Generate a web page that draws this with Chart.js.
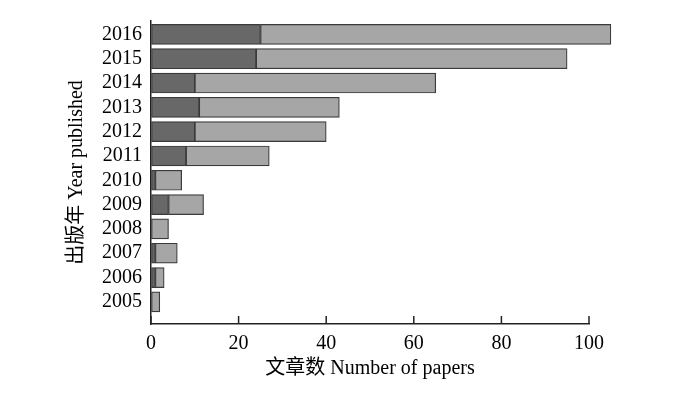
<!DOCTYPE html>
<html lang="en">
<head>
    <meta charset="UTF-8">
    <title>Chart</title>
    <script src="https://cdn.jsdelivr.net/npm/chart.js"></script>
    <style>
        html, body { margin: 0; padding: 0; background: #fff; }
        #wrap { width: 677px; height: 397px; }
    </style>
</head>
<body>
    <div id="wrap"><canvas id="myChart"></canvas></div>

    <script>
        // years, top to bottom
        const years = ['2016', '2015', '2014', '2013', '2012', '2011', '2010', '2009', '2008', '2007', '2006', '2005'];
        // dark part / light part of each bar
        const darkCounts = [25, 24, 10, 11, 10, 8, 1, 4, 0, 1, 1, 0];
        const lightCounts = [80, 71, 55, 32, 30, 19, 6, 8, 4, 5, 2, 2];
        const xTicks = [0, 20, 40, 60, 80, 100];

        const fontFamily = "'Liberation Serif', 'Noto Sans CJK SC', serif";
        Chart.defaults.font.family = fontFamily;
        Chart.defaults.color = '#000';

        // tick marks on the x axis point up into the plot
        const innerTicks = {
            id: 'innerTicks',
            afterDraw(chart) {
                const x = chart.scales.x;
                const c = chart.ctx;
                c.save();
                c.strokeStyle = '#222';
                c.lineWidth = 1.5;
                x.ticks.forEach(t => {
                    const px = x.getPixelForValue(t.value);
                    c.beginPath();
                    c.moveTo(px, x.top);
                    c.lineTo(px, x.top - 8);
                    c.stroke();
                });
                c.restore();
            }
        };

        var ctx = document.getElementById('myChart').getContext('2d');
        var myChart = new Chart(ctx, {
            type: 'bar',
            data: {
                datasets: [{
                    label: 'dark',
                    data: darkCounts.map((v, i) => ({ x: v, y: Number(years[i]) })),
                    backgroundColor: '#686868',
                    borderColor: '#3a3a3a',
                    borderWidth: 1.2,
                    borderSkipped: false,
                    barThickness: 20,
                    clip: false
                }, {
                    label: 'light',
                    data: lightCounts.map((v, i) => ({ x: v, y: Number(years[i]) })),
                    backgroundColor: '#a6a6a6',
                    borderColor: '#3a3a3a',
                    borderWidth: 1.2,
                    borderSkipped: false,
                    barThickness: 20,
                    clip: false
                }]
            },
            options: {
                indexAxis: 'y',
                responsive: true,
                maintainAspectRatio: false,
                animation: false,
                layout: { padding: { left: 65, right: 88, top: 20, bottom: 12 } },
                plugins: {
                    legend: { display: false },
                    tooltip: { enabled: false }
                },
                scales: {
                    x: {
                        type: 'linear',
                        stacked: true,
                        min: 0,
                        max: 100,
                        afterBuildTicks: scale => { scale.ticks = xTicks.map(v => ({ value: v })); },
                        grid: { drawOnChartArea: false, drawTicks: false },
                        border: { color: '#222', width: 1.5 },
                        ticks: { font: { size: 20 }, padding: 8, maxRotation: 0 },
                        title: {
                            display: true,
                            text: '文章数 Number of papers',
                            font: { size: 20 },
                            padding: { top: -7, bottom: 4 }
                        }
                    },
                    y: {
                        type: 'linear',
                        stacked: true,
                        offset: false,
                        min: 2004.09,
                        max: 2016.55,
                        grid: { display: false, drawTicks: false },
                        border: { color: '#222', width: 1.5 },
                        ticks: {
                            stepSize: 1,
                            includeBounds: false,
                            autoSkip: false,
                            padding: 9,
                            font: { size: 20 },
                            callback: v => years.includes(String(v)) ? String(v) : ''
                        },
                        title: {
                            display: true,
                            text: '出版年 Year published',
                            font: { size: 20 },
                            padding: { top: 0, bottom: 4 }
                        }
                    }
                }
            },
            plugins: [innerTicks]
        });
    </script>
</body>
</html>
